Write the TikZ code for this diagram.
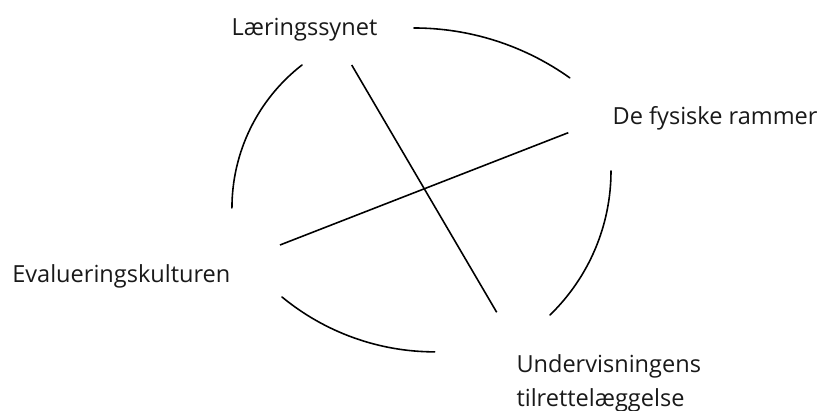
\documentclass[tikz,border=0pt]{standalone}
\usepackage{fontspec}
\setmainfont{Open Sans}
\begin{document}
\begin{tikzpicture}[x=0.02cm,y=0.02cm,
  arcline/.style={line width=0.9pt, line cap=round},
  crossline/.style={line width=0.9pt},
  label/.style={inner sep=0pt, outer sep=0pt, font=\fontsize{13.4}{19.4}\selectfont, text=black!90}]
\useasboundingbox (0,0) rectangle (822,411);
% labels
\node[label, anchor=base west] (laer) at (231.7,375.3) {Læringssynet};
\node[label, anchor=base west] (fys) at (612.7,286.7) {De fysiske rammer};
\node[label, anchor=base west] (eval) at (12.3,128.3) {Evalueringskulturen};
\node[label, anchor=base west, align=left] (underv) at (516.5,4.3) {Undervisningens\\tilrettelæggelse};
% arcs of the broken circle
\draw[arcline] (414,383) arc[start angle=90, end angle=54.5, radius=5.368cm];
\draw[arcline] (611,240) arc[start angle=0, end angle=-45.9, radius=4.01cm];
\draw[arcline] (282,114) arc[start angle=230.5, end angle=270, radius=4.806cm];
\draw[arcline] (302,346) arc[start angle=127.8, end angle=180, radius=3.62cm];
% crossing lines
\coordinate (a1) at (351.7,346);
\coordinate (a2) at (496.7,98.7);
\coordinate (b1) at (280,166);
\coordinate (b2) at (568.3,278.3);
\draw[crossline] (a1) -- (a2);
\draw[crossline] (b1) -- (b2);
\end{tikzpicture}
\end{document}
